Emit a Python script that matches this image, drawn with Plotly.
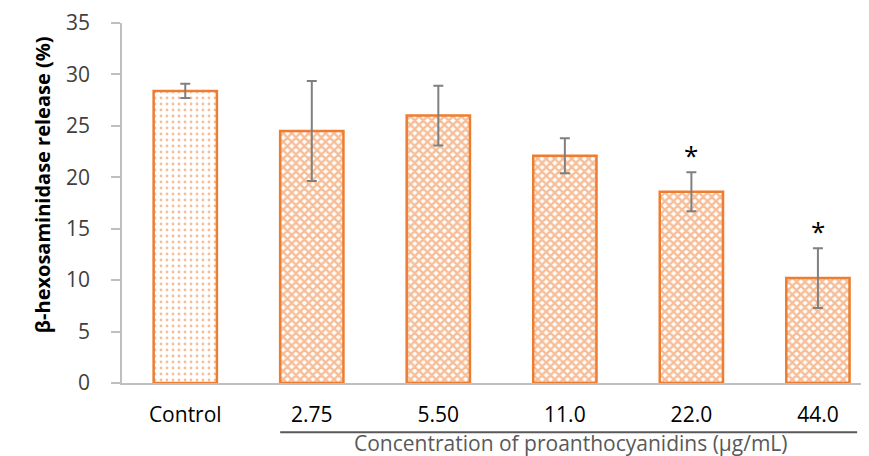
import plotly.graph_objects as go

categories = ["Control", "2.75", "5.50", "11.0", "22.0", "44.0"]
values = [28.4, 24.5, 26.0, 22.1, 18.6, 10.2]
errors = [0.7, 4.85, 2.9, 1.7, 1.9, 2.9]
significant = [False, False, False, False, True, True]
y_ticks = [0, 5, 10, 15, 20, 25, 30, 35]

ORANGE = "#ED7D31"
GRAY_TXT = "#595959"
FONT = "Open Sans"

fig = go.Figure()

# Control bar (sparse dotted pattern)
fig.add_trace(go.Bar(
    x=[0], y=[values[0]],
    width=0.5,
    marker=dict(
        color="white",
        line=dict(color=ORANGE, width=2.5),
        pattern=dict(shape=".", fgcolor=ORANGE, bgcolor="white", size=6, solidity=0.17, fillmode="overlay"),
    ),
    error_y=dict(type="data", array=[errors[0]], color="#808080", thickness=2, width=5),
    showlegend=False,
))

# Treatment bars (checkered pattern)
xs = list(range(1, len(categories)))
fig.add_trace(go.Bar(
    x=xs, y=values[1:],
    width=0.5,
    marker=dict(
        color="white",
        line=dict(color=ORANGE, width=2.5),
        pattern=dict(shape="x", fgcolor=ORANGE, bgcolor="white", size=6, solidity=0.65, fillmode="overlay"),
    ),
    error_y=dict(type="data", array=errors[1:], color="#808080", thickness=2, width=5),
    showlegend=False,
))

annotations = []
for i, (v, e, s) in enumerate(zip(values, errors, significant)):
    if s:
        annotations.append(dict(
            x=i, y=v + e, xref="x", yref="y", text="*", showarrow=False,
            yshift=17, font=dict(family=FONT, size=26, color="black"),
        ))

# y-axis title
annotations.append(dict(
    x=-0.106, xref="paper", y=0.55, yref="paper", xanchor="center", yanchor="middle",
    text="<b>β-hexosaminidase release (%)</b>", textangle=-90, showarrow=False,
    font=dict(family=FONT, size=20, color="black"),
))

# bracket line under the concentration labels and axis title
fig.add_shape(type="line", xref="x", yref="paper", x0=0.75, x1=5.31, y0=-0.137, y1=-0.137,
              line=dict(color=GRAY_TXT, width=2))
annotations.append(dict(
    x=3.05, xref="x", y=-0.2028, yref="paper", yanchor="bottom", yshift=-3,
    text="Concentration of proanthocyanidins (µg/mL)", showarrow=False,
    font=dict(family=FONT, size=21, color=GRAY_TXT),
))

fig.update_layout(
    width=861, height=448,
    margin=dict(l=114, r=3, t=15, b=73),
    plot_bgcolor="white", paper_bgcolor="white",
    annotations=annotations,
    xaxis=dict(
        range=[-0.5, 5.38], automargin=False,
        tickmode="array", tickvals=list(range(len(categories))), ticktext=categories,
        showline=True, linecolor="#BFBFBF", linewidth=1.5,
        ticks="", showgrid=False, zeroline=False,
        tickfont=dict(family=FONT, size=21, color="black"),
        ticklabelstandoff=12,
    ),
    yaxis=dict(
        range=[0, 35], automargin=False,
        tickmode="array", tickvals=y_ticks,
        showline=True, linecolor="#BFBFBF", linewidth=1.5,
        ticks="outside", ticklen=9, tickcolor="#BFBFBF", tickwidth=1.5,
        showgrid=False, zeroline=False,
        tickfont=dict(family=FONT, size=21, color="#404040"),
        ticklabelstandoff=17,
    ),
)

fig.write_html("out.html")
